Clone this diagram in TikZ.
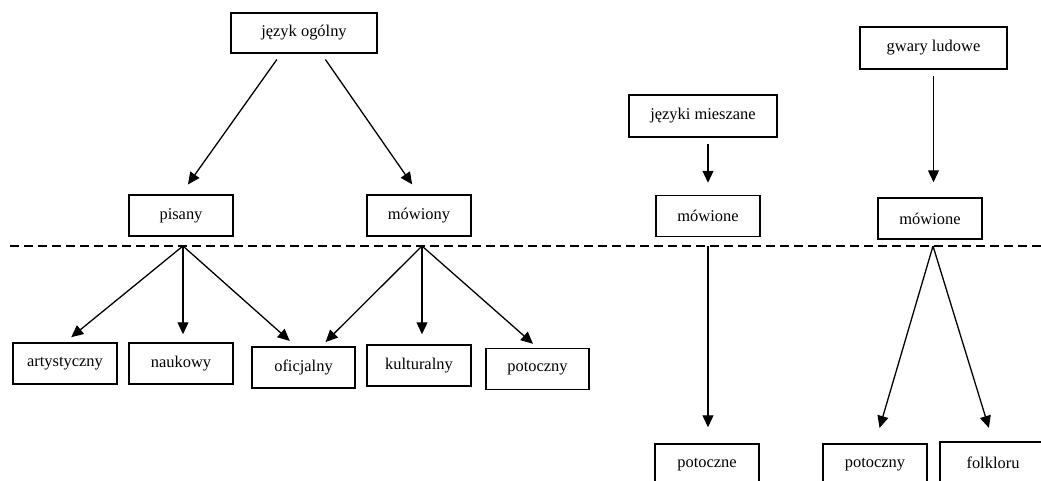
\documentclass[tikz,border=0pt]{standalone}
\usepackage{fontspec}
\setmainfont{Liberation Serif}
\usepackage{tikz}
\usetikzlibrary{positioning, arrows.meta}

\begin{document}
\begin{tikzpicture}[x=1bp, y=-1bp,
        box/.style={draw, line width=1.5pt, minimum width=104bp, minimum height=41bp,
            inner sep=0pt, font=\fontsize{16.5}{19}\selectfont},
        arr/.style={line width=1.3pt, -{Triangle[length=12bp, width=11bp]}}]
    \useasboundingbox (0,0) rectangle (1041,481);
    % upper level
    \node[box, minimum width=146bp, minimum height=40bp] (ogolny) at (304,33) {język ogólny};
    \node[box] (pisany) at (181,215.5) {pisany};
    \node[box] (mowiony) at (419,215.5) {mówiony};
    \node[box, minimum width=148bp, minimum height=42bp] (mieszane) at (703,116) {języki mieszane};
    \node[box] (mowioneA) at (708,216) {mówione};
    \node[box, minimum width=147bp, minimum height=42bp] (gwary) at (933.5,48) {gwary ludowe};
    \node[box] (mowioneB) at (930,218.5) {mówione};
    % the cut
    \coordinate (cutL) at (10,246);
    \coordinate (cutR) at (1041,246);
    \draw[line width=1.2pt, dash pattern=on 9bp off 5bp] (cutL) -- (cutR);
    \coordinate (pisanyT) at (183,246);
    \coordinate (mowionyT) at (422,246);
    \coordinate (mowioneAT) at (708,246);
    \coordinate (mowioneBT) at (933,246);
    % lower level
    \node[box] (artyst) at (65,363.5) {artystyczny};
    \node[box] (naukowy) at (181,363.5) {naukowy};
    \node[box, minimum width=103bp] (oficjalny) at (303.5,367.5) {oficjalny};
    \node[box] (kultur) at (419,365.5) {kulturalny};
    \node[box, minimum width=103bp] (potoczny) at (537.5,369) {potoczny};
    \node[box] (potoczne) at (707,464.5) {potoczne};
    \node[box] (potocznyB) at (875,464.5) {potoczny};
    \node[box, minimum width=106bp] (folkloru) at (993,462.5) {folkloru};
    % arrows
    \draw[arr, shorten <=7bp, shorten >=12bp] (ogolny.222) -- (pisany.north);
    \draw[arr, shorten <=7bp, shorten >=12bp] (ogolny.310) -- (mowiony.north);
    \draw[arr, shorten >=8bp] (pisanyT) -- (artyst.north);
    \draw[arr, shorten >=8bp] (pisanyT) -- (pisanyT |- naukowy.north);
    \draw[arr, shorten >=8bp] (pisanyT) -- (oficjalny.110);
    \draw[arr, shorten >=6bp] (mowionyT) -- (oficjalny.50);
    \draw[arr, shorten >=10bp] (mowionyT) -- (mowionyT |- kultur.north);
    \draw[arr, shorten >=6bp] (mowionyT) -- (potoczny.north);
    \draw[arr, shorten <=6bp, shorten >=12bp] (mowioneA.north |- mieszane.south) -- (mowioneA.north);
    \draw[arr, shorten >=16bp] (mowioneAT) -- (mowioneAT |- potoczne.north);
    \draw[arr, shorten <=6bp, shorten >=15bp] (gwary.south) -- (gwary.south |- mowioneB.north);
    \draw[arr, shorten >=16bp] (mowioneBT) -- (potocznyB.north);
    \draw[arr, shorten >=14bp] (mowioneBT) -- (folkloru.north);
\end{tikzpicture}
\end{document}
